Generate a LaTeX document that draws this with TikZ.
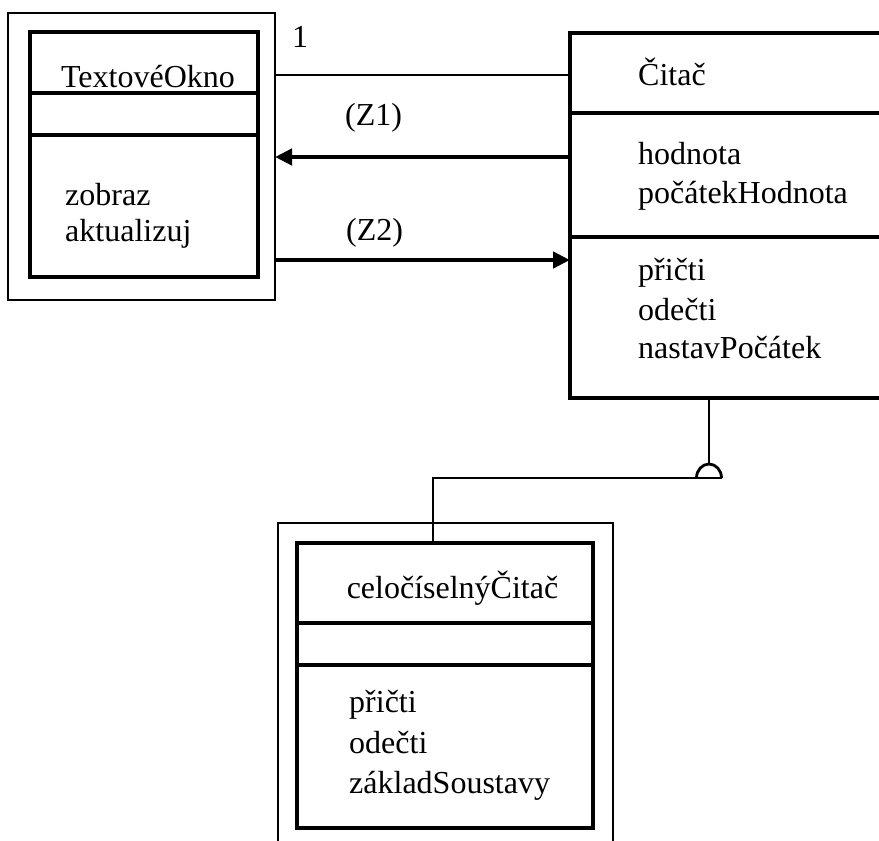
\documentclass[tikz,border=0pt]{standalone}
\usepackage{fontspec}
\setmainfont{Liberation Serif}
\usetikzlibrary{arrows.meta}
\begin{document}
\begin{tikzpicture}[x=1pt,y=-1pt,
  outerbox/.style={draw, line width=1.8pt, inner sep=0pt, outer sep=0pt},
  innerbox/.style={draw, line width=4.5pt, inner sep=0pt, outer sep=0pt},
  divider/.style={line width=4.5pt},
  txt/.style={font=\fontsize{32}{39}\selectfont, inner sep=0pt, anchor=base west},
  ctxt/.style={font=\fontsize{32}{39}\selectfont, inner sep=0pt, anchor=base},
  assocline/.style={line width=2.2pt},
  msg/.style={line width=4.5pt, -{Triangle[length=17pt,width=16pt]}},
  genline/.style={line width=2.8pt}
]
\useasboundingbox (0,0) rectangle (879,841);
\clip (0,0) rectangle (879,841);

% ---- TextoveOkno ----
\node[outerbox, minimum width=267pt, minimum height=287pt] (toOut) at (141.5,156.5) {};
\node[innerbox, minimum width=228pt, minimum height=245pt] (toIn) at (144,154.5) {};
\coordinate (toD1) at (0,93);
\coordinate (toD2) at (0,135);
\draw[divider] (toIn.west |- toD1) -- (toIn.east |- toD1);
\draw[divider] (toIn.west |- toD2) -- (toIn.east |- toD2);
\node[ctxt] (toName) at (148,87) {TextovéOkno};
\node[txt] (toOp1) at (65,205) {zobraz};
\node[txt] (toOp2) at (65,241) {aktualizuj};
\node[txt] (mult) at (292,47) {1};

% ---- Citac ----
\node[innerbox, minimum width=330pt, minimum height=365pt] (cit) at (735,215.5) {};
\coordinate (ciD1) at (0,113);
\coordinate (ciD2) at (0,237);
\draw[divider] (cit.west |- ciD1) -- (cit.east |- ciD1);
\draw[divider] (cit.west |- ciD2) -- (cit.east |- ciD2);
\node[txt] (ciName) at (638,85) {Čitač};
\node[txt] (ciA1) at (638,164) {hodnota};
\node[txt] (ciA2) at (638,203) {počátekHodnota};
\node[txt] (ciO1) at (638,280) {přičti};
\node[txt] (ciO2) at (638,320) {odečti};
\node[txt] (ciO3) at (638,358) {nastavPočátek};

% ---- celociselnyCitac ----
\node[outerbox, minimum width=335pt, minimum height=347pt] (ccOut) at (445.5,696.5) {};
\node[innerbox, minimum width=296pt, minimum height=285pt] (ccIn) at (445,685.5) {};
\coordinate (ccD1) at (0,623);
\coordinate (ccD2) at (0,665);
\draw[divider] (ccIn.west |- ccD1) -- (ccIn.east |- ccD1);
\draw[divider] (ccIn.west |- ccD2) -- (ccIn.east |- ccD2);
\node[ctxt] (ccName) at (452.5,598) {celočíselnýČitač};
\node[txt] (ccO1) at (349,712) {přičti};
\node[txt] (ccO2) at (349,753) {odečti};
\node[txt] (ccO3) at (349,793) {základSoustavy};

% ---- connectors ----
\coordinate (yA) at (0,75);
\coordinate (yZ1) at (0,157);
\coordinate (yZ2) at (0,260);
\draw[assocline] (toOut.east |- yA) -- (cit.west |- yA);
\draw[msg] (cit.west |- yZ1) -- (toOut.east |- yZ1);
\draw[msg] (toOut.east |- yZ2) -- (cit.west |- yZ2);
\node[txt] (z1) at (345,125) {(Z1)};
\node[txt] (z2) at (346,240) {(Z2)};

% ---- generalization ----
\coordinate (gx) at (709,0);
\coordinate (domeTop) at (709,464);
\coordinate (domeL) at (696.5,478);
\coordinate (lineR) at (721.5,478);
\coordinate (bend) at (433,478);
\draw[genline] (cit.south -| gx) -- (domeTop);
\draw[genline] (domeL) arc[start angle=180, end angle=360, x radius=12.5, y radius=14];
\draw[genline] (lineR) -- (bend) -- (ccIn.north -| bend);
\end{tikzpicture}
\end{document}
